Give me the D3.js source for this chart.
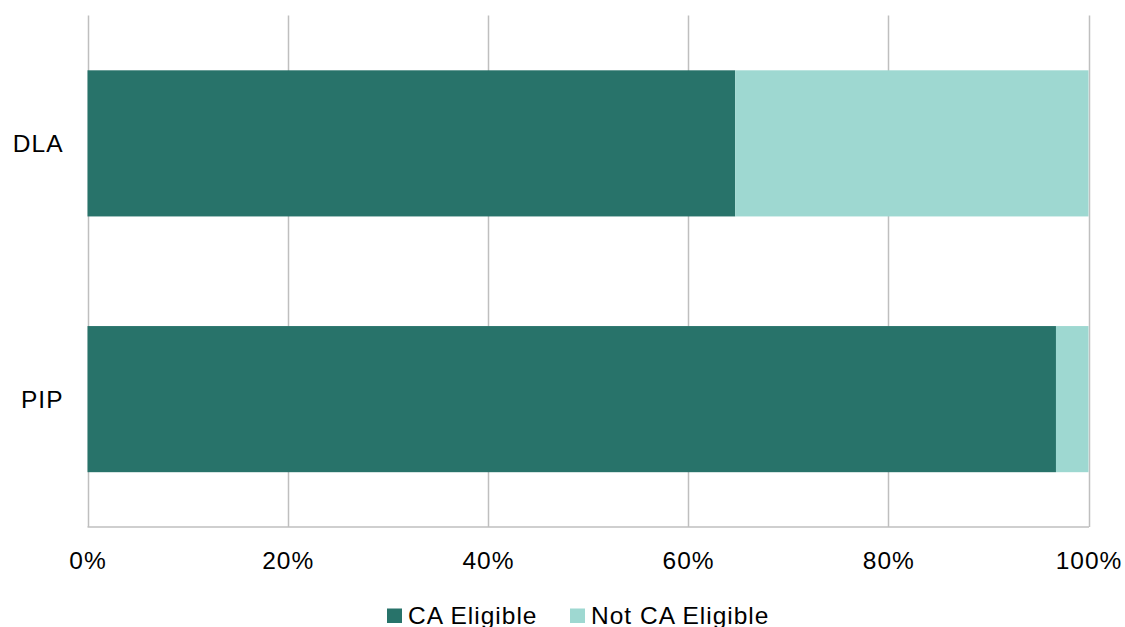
<!DOCTYPE html>
<html><head><meta charset="utf-8">
<script src="https://cdn.jsdelivr.net/npm/d3@7"></script>
<style>body{margin:0;background:#fff}svg{display:block}text{font-family:"Liberation Sans",Arial,sans-serif;fill:#000;letter-spacing:1px}</style>
</head><body>
<script>
const categories = ["DLA", "PIP"];
const caEligible = [64.7, 96.75];
const notCaEligible = [35.3, 3.25];
const seriesNames = ["CA Eligible", "Not CA Eligible"];
const seriesColors = ["#28736A", "#9ED8D1"];
const tickValues = [0, 20, 40, 60, 80, 100];

const W = 1125, H = 627;
const plotLeft = 87.5, plotRight = 1088.5, plotTop = 15.5, plotBottom = 527;
const svg = d3.select("body").append("svg").attr("width", W).attr("height", H);

const x = d3.scaleLinear().domain([0, 100]).range([plotLeft, plotRight]);
const y = d3.scaleBand().domain(categories).range([plotTop, plotBottom]).paddingInner(0.4286).paddingOuter(0.2143);

// gridlines
svg.append("g").selectAll("line").data(tickValues).join("line")
  .attr("x1", d => Math.round(x(d)) + 0.5).attr("x2", d => Math.round(x(d)) + 0.5)
  .attr("y1", plotTop).attr("y2", plotBottom)
  .attr("stroke", "#bfbfbf").attr("stroke-width", 1.5);
svg.append("line").attr("x1", plotLeft).attr("x2", plotRight + 0.5).attr("y1", plotBottom).attr("y2", plotBottom)
  .attr("stroke", "#bfbfbf").attr("stroke-width", 1.5);

const stackData = categories.map((c, i) => ({c, a: caEligible[i], b: notCaEligible[i]}));
const stack = d3.stack().keys(["a", "b"])(stackData);

svg.append("g").selectAll("g").data(stack).join("g")
  .attr("fill", (d, i) => seriesColors[i])
  .selectAll("rect").data(d => d).join("rect")
  .attr("x", d => x(d[0])).attr("width", d => x(d[1]) - x(d[0]))
  .attr("y", d => y(d.data.c)).attr("height", y.bandwidth());

// x tick labels
svg.append("g").selectAll("text").data(tickValues).join("text")
  .attr("x", d => x(d) + 0.5).attr("y", 568.5).attr("text-anchor", "middle")
  .attr("font-size", 24.5).text(d => d + "%");

// y labels
svg.append("g").selectAll("text").data(categories).join("text")
  .attr("x", 63.5).attr("y", d => y(d) + y.bandwidth() / 2 + 9).attr("text-anchor", "end")
  .attr("font-size", 24.5).text(d => d);

// legend
const legendX = [387, 570];
const lg = svg.append("g").selectAll("g").data(seriesNames).join("g")
  .attr("transform", (d, i) => `translate(${legendX[i]},0)`);
lg.append("rect").attr("x", 0).attr("y", 608.5).attr("width", 15).attr("height", 14.5)
  .attr("fill", (d, i) => seriesColors[i]);
lg.append("text").attr("x", 21).attr("y", 623.5).attr("font-size", 24.5).text(d => d);
</script>
</body></html>
